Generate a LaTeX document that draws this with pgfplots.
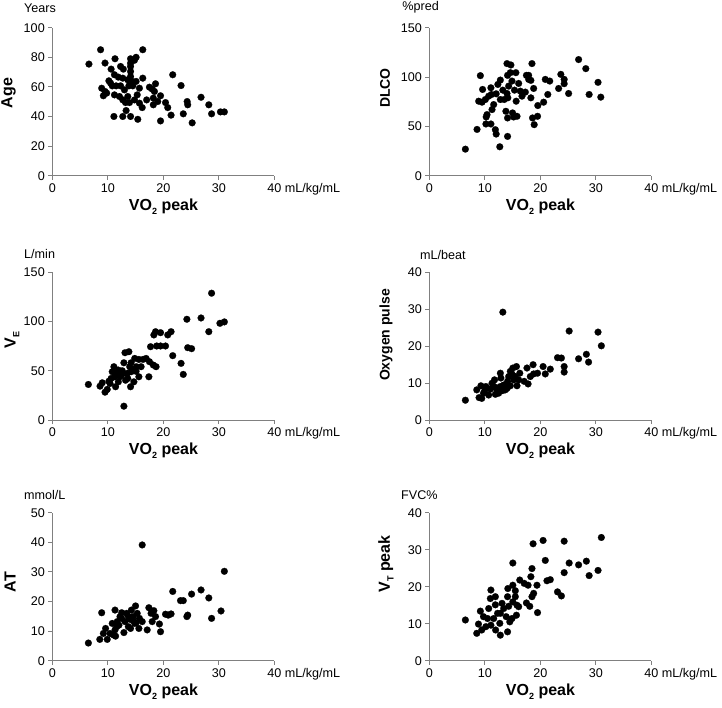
\documentclass[border=0pt]{standalone}
\usepackage{fontspec}
\setmainfont{Liberation Sans}
\usepackage{pgfplots}
\pgfplotsset{compat=1.18}
\definecolor{axgray}{gray}{0.5}
\pgfplotsset{
  myax/.style={
    scale only axis, width=222pt, height=148pt,
    anchor=south west,
    axis lines=left,
    axis line style={axgray, line width=1pt, -},
    xmin=0, xmax=40, xtick={0,10,20,30,40},
    xticklabels={0,10,20,30,40\rlap{ mL/kg/mL}},
    tick align=outside, major tick length=4pt,
    tick style={axgray, line width=1pt},
    tick label style={font=\fontsize{12.6}{14}\selectfont},
    /pgf/number format/assume math mode=true,
    clip=false,
  },
  dots/.style={only marks, mark=*, mark size=3.4pt, mark options={fill=black, draw=black, line width=0.2pt}},
}
\newcommand{\sub}[1]{\raisebox{-0.45ex}{\fontsize{9}{10}\selectfont #1}}
\begin{document}
\begin{tikzpicture}
\useasboundingbox (0pt,0pt) rectangle (722pt,708pt);
% Age
\begin{axis}[myax, at={(52.3pt,532.3pt)}, ymin=0, ymax=100, ytick={0,20,40,60,80,100}]
\addplot[dots] coordinates {(6.6,75.4) (8.7,85.1) (16.3,85.1) (9.5,76.1) (11.3,79) (10.6,72) (12.3,73.8) (12.8,72) (14.1,79) (14.1,76) (15.1,80) (14.8,78) (14.1,73.8) (14.1,70.4) (14.1,67) (11.2,68.2) (11.9,66.6) (12.7,65.9) (10.2,64.1) (10.5,62.5) (10.8,60.7) (11.5,60.7) (12.3,60.7) (13.6,64.8) (14.4,63.7) (15.1,63.7) (16.3,65.9) (13.8,60.7) (14.5,60.7) (21.7,68.2) (23.2,60.9) (18.6,62.1) (17.5,59.8) (18.0,58.5) (18.4,56.9) (8.9,59.1) (9.5,56.9) (9.2,54) (9.8,55.8) (11.2,54.6) (12.1,53.5) (12.7,51.2) (13.6,53.5) (13.2,49.4) (13.9,49.4) (14.8,51.2) (15.3,54.6) (15.7,49) (16.2,46) (17.0,51.2) (18.2,52.4) (19.5,54) (19.0,50.1) (18.2,47.9) (20.4,49.4) (20.8,46) (21.4,40.9) (24.3,50.1) (24.4,47.9) (26.8,53) (28.2,47.9) (28.7,41.8) (30.3,43.1) (31.0,43.1) (23.6,41.8) (25.2,35.7) (19.5,37) (15.4,38.1) (14.1,40) (12.7,40) (11.1,40) (13.3,44) (13.0,58) (15.7,59.1)};
\end{axis}
% DLCO
\begin{axis}[myax, at={(429.3pt,532.3pt)}, ymin=0, ymax=150, ytick={0,50,100,150}]
\addplot[dots] coordinates {(6.5,26.9) (8.6,46.9) (9.2,101.4) (9.6,87.4) (8.9,75.5) (9.5,74.5) (10.1,77.2) (10.7,80.6) (11.1,89.1) (10.4,61.9) (10.25,59.5) (10.2,52.4) (11.1,52.4) (11.9,46.6) (12.05,42.2) (11.3,67) (11.6,72.1) (11.2,82.3) (12.05,83) (12.35,92.5) (12.8,96.9) (12.7,29.3) (13.25,86.7) (12.8,77.2) (13.5,77.2) (14.0,83.3) (14.15,78.9) (14.1,101.7) (14.0,113.6) (14.7,112.2) (14.6,104.4) (14.9,95.9) (14.3,90.8) (13.8,65.3) (14.1,58.5) (14.1,39.8) (15.0,63.6) (15.2,59.5) (15.8,60.2) (15.35,86.7) (15.65,75.5) (15.6,104.4) (16.1,93.5) (16.4,85.7) (16.7,80.6) (17.3,84.7) (17.5,101.7) (17.9,97.6) (18.3,96.6) (17.9,101.7) (18.5,113.6) (18.8,88.4) (18.3,78.9) (18.6,58.5) (18.9,51.7) (19.5,60.2) (19.55,71.1) (20.6,74.5) (20.9,97.6) (21.7,95.9) (21.35,82.3) (23.3,88.4) (23.7,102.7) (24.3,97.6) (24.3,93.2) (25.1,83.3) (26.9,117.7) (28.2,108.5) (28.8,82.3) (30.4,94.6) (30.9,79.6)};
\end{axis}
% VE
\begin{axis}[myax, at={(52.3pt,287.8pt)}, ymin=0, ymax=150, ytick={0,50,100,150}]
\addplot[dots] coordinates {(6.5,36.2) (8.6,34.5) (9.0,37.9) (9.5,28.4) (9.9,31.2) (10.4,37.2) (10.8,49.1) (11.25,44) (11.4,33.9) (11.1,54.2) (11.9,50.8) (12.2,44) (11.9,38.9) (12.5,45.7) (12.9,58.2) (13.1,68.4) (13.8,69.4) (12.9,14.2) (13.5,47.4) (13.95,54.2) (14.2,58.2) (13.6,42.3) (14.1,33.9) (14.7,38.9) (14.55,50.8) (15.15,54.2) (14.85,62.6) (15.6,61.6) (15.6,44) (16.0,54.2) (16.35,61.6) (16.9,62.6) (17.5,59.3) (17.4,44) (18.2,55.9) (18.7,54.2) (17.7,74.5) (18.3,86.4) (18.6,89.7) (18.8,75.2) (19.5,75.2) (19.5,88.7) (20.4,75.2) (20.8,86.4) (21.4,89.7) (21.7,65.4) (23.2,57.6) (23.6,46.4) (24.25,102.3) (24.4,73.5) (25.1,72.5) (26.8,103.6) (28.7,128.7) (28.2,89.7) (30.2,98.2) (31.0,99.6) (10.6,42.3) (11.5,47.4) (12.6,50.1) (14.2,49.1) (15.1,49.5) (13.2,40.5) (10.2,39.5)};
\end{axis}
% Oxygen pulse
\begin{axis}[myax, at={(429.3pt,287.8pt)}, ymin=0, ymax=40, ytick={0,10,20,30,40}]
\addplot[dots] coordinates {(6.5,5.4) (8.55,8.2) (8.97,6.1) (9.3,9.3) (9.45,5.9) (9.76,7.3) (10.2,9.1) (10.7,6.8) (11.0,8.4) (11.6,9.1) (11.75,10.9) (11.9,7.0) (12.2,8.2) (12.8,9.1) (12.8,12.7) (12.9,11.4) (13.25,29.2) (13.4,9.5) (13.7,8.2) (14.1,10.5) (14.3,11.8) (14.6,13.2) (15.05,14.1) (15.2,10.9) (15.7,14.5) (15.5,11.8) (15.8,9.3) (16.3,12.7) (17.1,10.5) (17.6,14.1) (17.8,9.8) (18.2,11.8) (18.7,15.0) (18.8,12.5) (19.5,12.7) (20.5,14.5) (20.9,12.5) (21.8,13.8) (23.1,16.9) (23.8,16.8) (24.3,14.5) (24.3,13.0) (25.2,24.1) (26.9,16.6) (28.3,17.8) (28.7,15.7) (30.4,23.8) (31.0,20.1) (11.3,10.0) (12.5,7.3) (13.9,9.3) (14.6,9.3) (16.1,10.9) (10.0,8.0) (12.0,8.8) (13.2,8.0) (14.0,8.6) (14.9,12.5)};
\end{axis}
% AT
\begin{axis}[myax, at={(52.3pt,47.3pt)}, ymin=0, ymax=50, ytick={0,10,20,30,40,50}]
\addplot[dots] coordinates {(6.5,5.97) (8.56,7.2) (8.9,16.2) (9.2,9.2) (9.6,10.9) (9.9,7.2) (10.4,9.2) (11.0,8.7) (11.3,10.4) (11.3,17.1) (11.4,8.3) (11.7,13.2) (12.0,12.0) (12.2,14.9) (12.5,16.2) (12.9,9.5) (13.1,13.2) (13.4,16.0) (13.7,11.5) (14.0,14.0) (14.1,10.9) (14.25,17.1) (14.55,14.9) (14.85,12.6) (15.0,18.5) (15.3,16.0) (15.6,10.9) (15.7,14.3) (16.2,39.1) (16.2,13.2) (17.1,10.4) (17.4,17.9) (17.8,16.0) (18.0,13.2) (18.3,16.9) (18.6,14.9) (19.3,12.4) (19.5,9.8) (20.4,15.7) (20.9,15.4) (21.4,15.8) (21.7,23.4) (23.1,20.3) (23.6,20.3) (24.25,14.9) (24.4,15.4) (25.1,22.5) (26.8,23.9) (28.2,21.2) (28.7,14.3) (30.4,16.8) (31.0,30.2) (10.8,12.6) (11.6,11.5) (12.5,14.3) (13.7,14.9) (14.55,13.5) (15.1,12.8)};
\end{axis}
% VT peak
\begin{axis}[myax, at={(429.3pt,47.3pt)}, ymin=0, ymax=40, ytick={0,10,20,30,40}]
\addplot[dots] coordinates {(6.5,11.0) (8.55,7.4) (8.86,9.9) (9.2,13.4) (9.45,8.3) (9.76,11.9) (10.2,9.2) (10.5,11.4) (10.7,14.1) (11.0,16.8) (11.1,19.1) (11.1,9.6) (11.6,11.4) (11.9,15.1) (11.9,17.3) (11.95,8.3) (12.3,12.8) (12.8,6.9) (12.7,10.1) (13.1,15.5) (12.8,12.8) (13.4,14.1) (13.85,11.9) (14.1,7.8) (14.1,17.3) (14.15,19.5) (14.3,14.7) (14.5,10.5) (14.9,11.4) (15.05,26.4) (15.05,20.4) (15.05,15.9) (15.5,18.9) (15.5,17.3) (15.7,12.3) (15.8,15.0) (16.1,14.6) (16.3,21.8) (17.1,20.9) (17.5,15.6) (17.8,20.4) (18.1,14.7) (18.3,22.7) (18.5,24.9) (18.7,31.6) (18.5,17.3) (18.8,18.2) (19.4,20.4) (19.5,13.0) (20.5,32.5) (20.9,27.1) (21.2,21.6) (21.8,21.9) (23.1,18.6) (23.8,17.5) (24.3,32.3) (24.3,23.8) (25.2,26.4) (26.9,25.9) (28.3,26.9) (28.8,23.0) (30.4,24.4) (31.0,33.3)};
\end{axis}
% bold axis titles
\node[rotate=90, font=\fontsize{16}{18}\selectfont\bfseries] at (8.5pt,615pt) {Age};
\node[rotate=90, font=\fontsize{14}{16}\selectfont\bfseries] at (385pt,620pt) {DLCO};
\node[rotate=90, font=\fontsize{16}{18}\selectfont\bfseries] at (12pt,368pt) {V\sub{E}};
\node[rotate=90, font=\fontsize{14}{16}\selectfont\bfseries] at (386pt,373pt) {Oxygen pulse};
\node[rotate=90, font=\fontsize{16}{18}\selectfont\bfseries] at (10pt,126pt) {AT};
\node[rotate=90, font=\fontsize{16}{18}\selectfont\bfseries] at (386pt,144pt) {V\sub{T} peak};
\foreach \yy in {501,257,16} {
  \node[font=\fontsize{16}{18}\selectfont\bfseries] at (163.5pt,\yy pt) {VO\sub{2} peak};
  \node[font=\fontsize{16}{18}\selectfont\bfseries] at (540.5pt,\yy pt) {VO\sub{2} peak};
}
% unit labels
\node[anchor=west, inner sep=0pt, font=\fontsize{12.6}{14}\selectfont] at (24pt,700pt) {Years};
\node[anchor=east, inner sep=0pt, font=\fontsize{12.6}{14}\selectfont] at (439pt,701pt) {\%pred};
\node[anchor=west, inner sep=0pt, font=\fontsize{12.6}{14}\selectfont] at (24pt,453.5pt) {L/min};
\node[anchor=west, inner sep=0pt, font=\fontsize{12.6}{14}\selectfont] at (420pt,453pt) {mL/beat};
\node[anchor=west, inner sep=0pt, font=\fontsize{12.6}{14}\selectfont] at (24pt,213pt) {mmol/L};
\node[anchor=west, inner sep=0pt, font=\fontsize{12.6}{14}\selectfont] at (401pt,213pt) {FVC\%};
\end{tikzpicture}
\end{document}
